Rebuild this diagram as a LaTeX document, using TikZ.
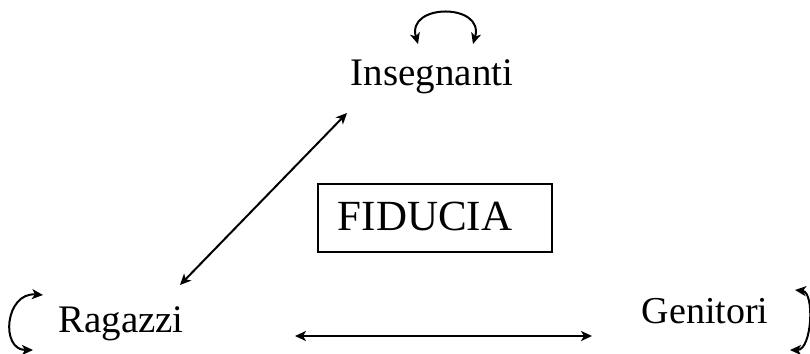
\documentclass[tikz,border=0pt]{standalone}
\usepackage{fontspec}
\setmainfont{Liberation Serif}
\usetikzlibrary{arrows.meta}
\begin{document}
\begin{tikzpicture}[x=1pt,y=-1pt,
  lbl/.style={anchor=base,inner sep=0pt,font=\fontsize{39}{41}\selectfont},
  conn/.style={line width=2pt,{Stealth[length=11pt,width=10pt,inset=3pt]}-{Stealth[length=11pt,width=10pt,inset=3pt]}}]
\useasboundingbox (0,0) rectangle (810,353);
\node[lbl] (ins) at (432,85) {Insegnanti};
\node[lbl] (rag) at (121,332) {Ragazzi};
\node[lbl,font=\fontsize{38}{40}\selectfont] (gen) at (705,323) {Genitori};
\node[draw,line width=1.3pt,minimum width=234pt,minimum height=68pt,inner sep=0pt] (box) at (435,218) {};
\node[lbl,font=\fontsize{43}{45}\selectfont] (fid) at (425,230) {FIDUCIA};
\coordinate (d1) at (347,113);
\coordinate (d2) at (180,285);
\coordinate (h1) at (295,336);
\coordinate (h2) at (592,336);
\coordinate (t1) at (418,44);
\coordinate (t2) at (473,44);
\coordinate (l1) at (43,295);
\coordinate (l2) at (33,350);
\coordinate (r1) at (795,290);
\coordinate (r2) at (790,350);
\draw[conn] (d1) -- (d2);
\draw[conn] (h1) -- (h2);
\draw[conn] (t1) .. controls (406,3) and (485,3) .. (t2);
\draw[conn] (l1) .. controls (5,292) and (0,350) .. (l2);
\draw[conn] (r1) .. controls (815,292) and (812,350) .. (r2);
\end{tikzpicture}
\end{document}
